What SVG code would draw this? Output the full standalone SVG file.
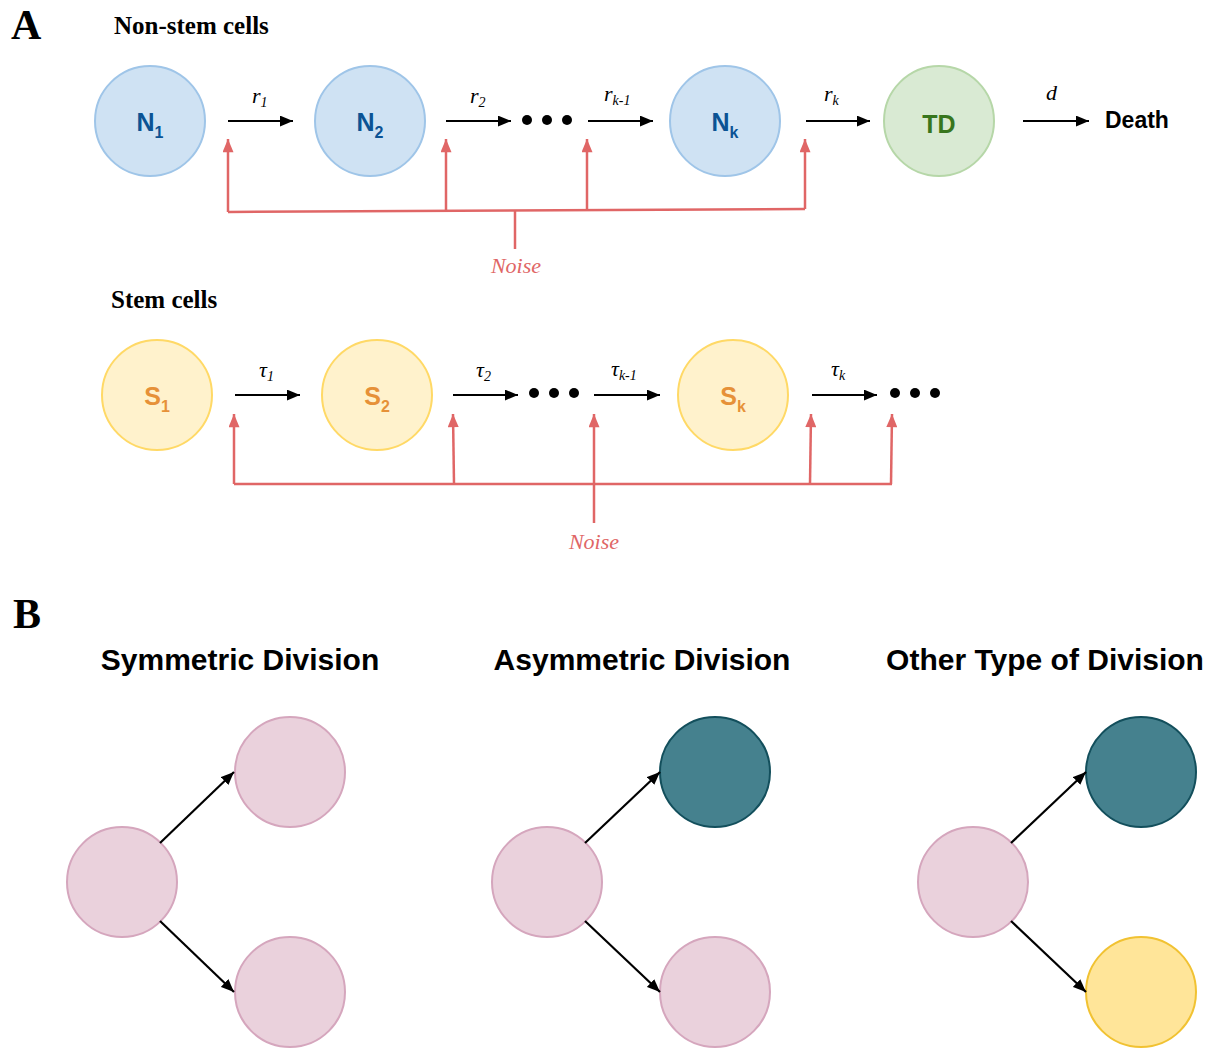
<svg xmlns="http://www.w3.org/2000/svg" width="1211" height="1049" viewBox="0 0 1211 1049">
<defs>
<marker id="ah" viewBox="0 0 12 10" refX="12" refY="5" markerWidth="13" markerHeight="11" markerUnits="userSpaceOnUse" orient="auto">
<path d="M0,0 L12,5 L0,10 Z" fill="#000"/>
</marker>
<marker id="rh" viewBox="0 0 12 10" refX="12" refY="5" markerWidth="14" markerHeight="11" markerUnits="userSpaceOnUse" orient="auto">
<path d="M0,0 L12,5 L0,10 Z" fill="#e06666"/>
</marker>
</defs>
<style>
.sec{font-family:"Liberation Serif",serif;font-weight:bold;font-size:42px;fill:#000}
.hd{font-family:"Liberation Serif",serif;font-weight:bold;font-size:25px;fill:#000}
.tt{font-family:"Liberation Sans",Arial,sans-serif;font-weight:bold;font-size:30px;fill:#000}
.nl{font-family:"Liberation Sans",Arial,sans-serif;font-weight:bold;font-size:25px;text-anchor:middle}
.sub{font-size:16px}
.m{font-family:"Liberation Serif",serif;font-style:italic;font-size:22px;fill:#000}
.ms{font-size:14px}
.noise{font-family:"Liberation Serif",serif;font-style:italic;font-size:22px;fill:#e06666;text-anchor:middle}
.blue{fill:#cfe2f3;stroke:#9fc5e8;stroke-width:2}
.green{fill:#d9ead3;stroke:#b6d7a8;stroke-width:2}
.yel{fill:#fff2cc;stroke:#ffd966;stroke-width:2}
.pink{fill:#ead1dc;stroke:#d5a6bd;stroke-width:2}
.teal{fill:#45818e;stroke:#134f5c;stroke-width:2}
.gold{fill:#ffe599;stroke:#f1c232;stroke-width:2}
.ar{stroke:#000;stroke-width:2.2;fill:none;marker-end:url(#ah)}
.rl{stroke:#e06666;stroke-width:2.5;fill:none}
.ra{stroke:#e06666;stroke-width:2.5;fill:none;marker-end:url(#rh)}
</style>
<rect width="1211" height="1049" fill="#fff"/>

<text class="sec" x="11" y="39">A</text>
<text class="hd" x="114" y="34">Non-stem cells</text>
<text class="hd" x="111" y="308">Stem cells</text>
<text class="sec" x="13" y="628">B</text>

<g id="N1"><circle class="blue" cx="150" cy="121" r="55"/><text class="nl" x="150" y="131" fill="#0b5394">N<tspan class="sub" dy="7">1</tspan></text></g>
<g id="N2"><circle class="blue" cx="370" cy="121" r="55"/><text class="nl" x="370" y="131" fill="#0b5394">N<tspan class="sub" dy="7">2</tspan></text></g>
<g id="Nk"><circle class="blue" cx="725" cy="121" r="55"/><text class="nl" x="725" y="131" fill="#0b5394">N<tspan class="sub" dy="7">k</tspan></text></g>
<g id="TD"><circle class="green" cx="939" cy="121" r="55"/><text class="nl" x="939" y="133" fill="#38761d">TD</text></g>
<g id="Death"><text x="1105" y="128" font-family="Liberation Sans,Arial,sans-serif" font-weight="bold" font-size="23">Death</text></g>
<g id="dots1"><circle cx="527" cy="120" r="5"/><circle cx="547" cy="120" r="5"/><circle cx="567" cy="120" r="5"/></g>

<g id="S1"><circle class="yel" cx="157" cy="395" r="55"/><text class="nl" x="157" y="405" fill="#e69138">S<tspan class="sub" dy="7">1</tspan></text></g>
<g id="S2"><circle class="yel" cx="377" cy="395" r="55"/><text class="nl" x="377" y="405" fill="#e69138">S<tspan class="sub" dy="7">2</tspan></text></g>
<g id="Sk"><circle class="yel" cx="733" cy="395" r="55"/><text class="nl" x="733" y="405" fill="#e69138">S<tspan class="sub" dy="7">k</tspan></text></g>
<g id="dots2"><circle cx="534" cy="393" r="5"/><circle cx="554" cy="393" r="5"/><circle cx="574" cy="393" r="5"/></g>
<g id="dots3"><circle cx="895" cy="393" r="5"/><circle cx="915" cy="393" r="5"/><circle cx="935" cy="393" r="5"/></g>

<g id="labels">
<text class="m" x="252" y="103">r<tspan class="ms" dy="4">1</tspan></text>
<text class="m" x="470" y="103">r<tspan class="ms" dy="4">2</tspan></text>
<text class="m" x="604" y="101">r<tspan class="ms" dy="4">k-1</tspan></text>
<text class="m" x="824" y="101">r<tspan class="ms" dy="4">k</tspan></text>
<text class="m" x="1046" y="100">d</text>
<text class="m" x="259" y="377">τ<tspan class="ms" dy="4">1</tspan></text>
<text class="m" x="476" y="377">τ<tspan class="ms" dy="4">2</tspan></text>
<text class="m" x="611" y="376">τ<tspan class="ms" dy="4">k-1</tspan></text>
<text class="m" x="831" y="376">τ<tspan class="ms" dy="4">k</tspan></text>
<text class="noise" x="516" y="273">Noise</text>
<text class="noise" x="594" y="549">Noise</text>
</g>

<g id="SymParent"><circle class="pink" cx="122" cy="882" r="55"/></g>
<g id="SymTop"><circle class="pink" cx="290" cy="772" r="55"/></g>
<g id="SymBot"><circle class="pink" cx="290" cy="992" r="55"/></g>
<g id="AsymParent"><circle class="pink" cx="547" cy="882" r="55"/></g>
<g id="AsymTop"><circle class="teal" cx="715" cy="772" r="55"/></g>
<g id="AsymBot"><circle class="pink" cx="715" cy="992" r="55"/></g>
<g id="OthParent"><circle class="pink" cx="973" cy="882" r="55"/></g>
<g id="OthTop"><circle class="teal" cx="1141" cy="772" r="55"/></g>
<g id="OthBot"><circle class="gold" cx="1141" cy="992" r="55"/></g>
<text class="tt" x="240" y="670" text-anchor="middle">Symmetric Division</text>
<text class="tt" x="642" y="670" text-anchor="middle">Asymmetric Division</text>
<text class="tt" x="1045" y="670" text-anchor="middle">Other Type of Division</text>

<g id="connectors">
<line class="ar" x1="228" y1="121" x2="293" y2="121"/>
<line class="ar" x1="446" y1="121" x2="511" y2="121"/>
<line class="ar" x1="588" y1="121" x2="653" y2="121"/>
<line class="ar" x1="806" y1="121" x2="870" y2="121"/>
<line class="ar" x1="1023" y1="121" x2="1089" y2="121"/>
<line class="ar" x1="235" y1="395" x2="300" y2="395"/>
<line class="ar" x1="453" y1="395" x2="518" y2="395"/>
<line class="ar" x1="594" y1="395" x2="660" y2="395"/>
<line class="ar" x1="812" y1="395" x2="877" y2="395"/>

<path class="rl" d="M228,212 L805,209"/>
<line class="ra" x1="228" y1="212" x2="228" y2="139"/>
<line class="ra" x1="446" y1="211" x2="446" y2="139"/>
<line class="ra" x1="587" y1="210" x2="587" y2="139"/>
<line class="ra" x1="805" y1="209" x2="805" y2="139"/>
<line class="rl" x1="515" y1="211" x2="515" y2="249"/>

<path class="rl" d="M234,484 L892,484"/>
<line class="ra" x1="234" y1="484" x2="234" y2="414"/>
<line class="ra" x1="454" y1="484" x2="453" y2="414"/>
<line class="ra" x1="594" y1="523" x2="594" y2="414"/>
<line class="ra" x1="810" y1="484" x2="811" y2="414"/>
<line class="ra" x1="891" y1="484" x2="892" y2="414"/>

<line class="ar" x1="160" y1="843" x2="234" y2="772"/>
<line class="ar" x1="160" y1="921" x2="234" y2="992"/>
<line class="ar" x1="585" y1="843" x2="660" y2="772"/>
<line class="ar" x1="585" y1="921" x2="660" y2="992"/>
<line class="ar" x1="1011" y1="843" x2="1086" y2="772"/>
<line class="ar" x1="1011" y1="921" x2="1086" y2="992"/>
</g>
</svg>
